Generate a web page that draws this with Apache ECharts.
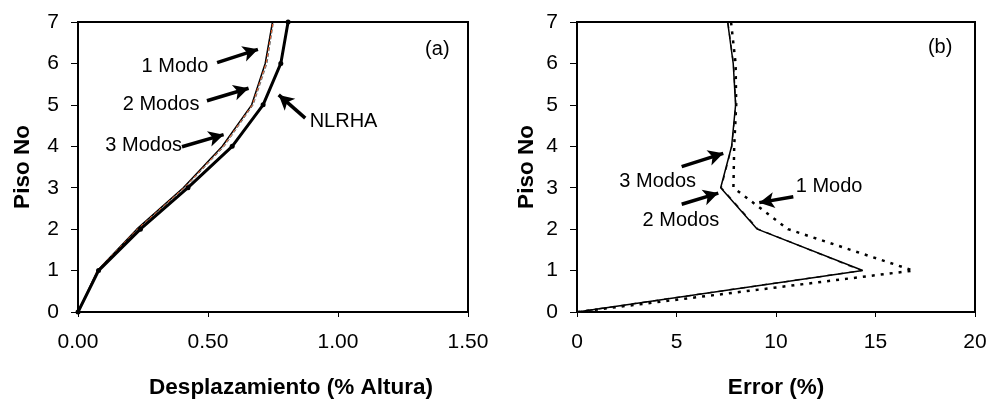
<!DOCTYPE html>
<html>
<head>
<meta charset="utf-8">
<script src="https://cdn.jsdelivr.net/npm/echarts@6/dist/echarts.min.js"></script>
<style>
  html, body { margin: 0; padding: 0; background: #fff; }
  #chart { width: 989px; height: 399px; }
</style>
</head>
<body>
<div id="chart"></div>
<script>
// Floors (storey numbers)
const floors = [0, 1, 2, 3, 4, 5, 6, 7];

// (a) Storey displacement (% of height)
const dispNLRHA = [0, 0.079, 0.240, 0.423, 0.593, 0.712, 0.780, 0.808];
const disp1Modo = [0, 0.075, 0.226, 0.405, 0.555, 0.668, 0.720, 0.748];
const disp2Modos = [0, 0.074, 0.228, 0.408, 0.558, 0.670, 0.723, 0.750];
const disp3Modos = [0, 0.076, 0.232, 0.412, 0.563, 0.674, 0.727, 0.752];

// (b) Error (%) relative to NLRHA
const err1Modo = [0, 16.9, 10.6, 7.86, 7.90, 8.00, 7.97, 7.74];
const err2Modos = [0, 14.30, 9.10, 7.25, 7.78, 7.98, 7.86, 7.58];
const err3Modos = [0, 14.36, 9.06, 7.22, 7.77, 7.97, 7.85, 7.57];

// Axis ticks
const dispTicks = [0, 0.5, 1.0, 1.5];
const errTicks = [0, 5, 10, 15, 20];
const floorTicks = [0, 1, 2, 3, 4, 5, 6, 7];

const pairs = (xs) => xs.map((v, i) => [v, floors[i]]);

const FONT = 'Liberation Sans, Arial, sans-serif';
const tickLabel = { color: '#000', fontSize: 21, fontFamily: FONT };
const nameStyle = { color: '#000', fontSize: 22.5, fontWeight: 'bold', fontFamily: FONT };
const axisLine = { show: true, lineStyle: { color: '#000', width: 2 } };

function arrow(from, to) {
  return [
    { coord: from, symbol: 'none' },
    { coord: to, symbol: 'arrow', symbolSize: [12, 15] }
  ];
}
function note(text, at, pos) {
  return {
    coord: at, symbol: 'circle', symbolSize: 0,
    label: { show: true, formatter: text, position: pos, distance: 0,
             color: '#000', fontSize: 20, fontFamily: FONT }
  };
}
const arrowLine = { color: '#000', width: 3.5, type: 'solid' };

const option = {
  animation: false,
  backgroundColor: '#fff',
  grid: [
    { left: 78, right: 521, top: 22, bottom: 87, show: true, containLabel: false,
      outerBoundsMode: 'none',
      borderColor: '#000', borderWidth: 2, backgroundColor: 'transparent' },
    { left: 577, right: 14, top: 22, bottom: 87, show: true, containLabel: false,
      outerBoundsMode: 'none',
      borderColor: '#000', borderWidth: 2, backgroundColor: 'transparent' }
  ],
  xAxis: [
    { gridIndex: 0, type: 'value', min: dispTicks[0], max: dispTicks[dispTicks.length - 1],
      interval: 0.5, splitLine: { show: false }, axisLine,
      axisTick: { show: true, length: 5, lineStyle: { color: '#000', width: 1 } },
      axisLabel: Object.assign({ margin: 20, formatter: v => v.toFixed(2) }, tickLabel),
      name: 'Desplazamiento (% Altura)', nameLocation: 'middle', nameGap: 64,
      nameTextStyle: Object.assign({ padding: [0, 0, 0, 36] }, nameStyle) },
    { gridIndex: 1, type: 'value', min: errTicks[0], max: errTicks[errTicks.length - 1],
      interval: 5, splitLine: { show: false }, axisLine,
      axisTick: { show: true, length: 5, lineStyle: { color: '#000', width: 1 } },
      axisLabel: Object.assign({ margin: 20 }, tickLabel),
      name: 'Error (%)', nameLocation: 'middle', nameGap: 64,
      nameTextStyle: nameStyle }
  ],
  yAxis: [0, 1].map(g => ({
    gridIndex: g, type: 'value', min: floorTicks[0], max: floorTicks[floorTicks.length - 1],
    interval: 1, splitLine: { show: false }, axisLine,
    axisTick: { show: true, length: 7, lineStyle: { color: '#000', width: 1 } },
    axisLabel: Object.assign({ margin: 19 }, tickLabel),
    name: 'Piso No', nameLocation: 'middle', nameGap: g === 0 ? 44 : 39, nameRotate: 90,
    nameTextStyle: nameStyle
  })),
  series: [
    // ---- (a) displacements ----
    { name: '1 Modo', type: 'line', xAxisIndex: 0, yAxisIndex: 0, data: pairs(disp1Modo),
      showSymbol: false, lineStyle: { color: '#000', width: 1.5 }, z: 3 },
    { name: '3 Modos', type: 'line', xAxisIndex: 0, yAxisIndex: 0, data: pairs(disp3Modos),
      showSymbol: false, lineStyle: { color: '#666', width: 1, type: 'dashed' }, z: 4 },
    { name: '2 Modos', type: 'line', xAxisIndex: 0, yAxisIndex: 0, data: pairs(disp2Modos),
      showSymbol: false, lineStyle: { color: '#e8541e', width: 1, type: [3, 3] }, z: 5 },
    { name: 'NLRHA', type: 'line', xAxisIndex: 0, yAxisIndex: 0, data: pairs(dispNLRHA),
      symbol: 'circle', symbolSize: 5, itemStyle: { color: '#000' },
      lineStyle: { color: '#000', width: 3 }, z: 6,
      markLine: {
        silent: true, animation: false, lineStyle: arrowLine, label: { show: false },
        data: [
          arrow([0.535, 6.02], [0.692, 6.34]),
          arrow([0.496, 5.10], [0.656, 5.40]),
          arrow([0.400, 3.99], [0.560, 4.28]),
          arrow([0.874, 4.68], [0.772, 5.24])
        ]
      },
      markPoint: {
        silent: true, animation: false,
        data: [
          note('1 Modo', [0.501, 5.93], 'left'),
          note('2 Modos', [0.467, 5.02], 'left'),
          note('3 Modos', [0.400, 4.02], 'left'),
          note('NLRHA', [0.891, 4.60], 'right'),
          note('(a)', [1.382, 6.33], 'inside')
        ]
      }
    },
    // ---- (b) errors ----
    { name: '1 Modo', type: 'line', xAxisIndex: 1, yAxisIndex: 1, data: pairs(err1Modo),
      showSymbol: false, lineStyle: { color: '#000', width: 2.5, type: [3, 6] }, z: 3 },
    { name: '2 Modos', type: 'line', xAxisIndex: 1, yAxisIndex: 1, data: pairs(err2Modos),
      showSymbol: false, lineStyle: { color: '#333', width: 1.5, type: [5, 6] }, z: 4 },
    { name: '3 Modos', type: 'line', xAxisIndex: 1, yAxisIndex: 1, data: pairs(err3Modos),
      showSymbol: false, lineStyle: { color: '#000', width: 1.5 }, z: 5,
      markLine: {
        silent: true, animation: false, lineStyle: arrowLine, label: { show: false },
        data: [
          arrow([5.26, 3.51], [7.35, 3.83]),
          arrow([5.26, 2.60], [7.10, 2.87]),
          arrow([10.87, 2.78], [9.16, 2.64])
        ]
      },
      markPoint: {
        silent: true, animation: false,
        data: [
          note('3 Modos', [5.98, 3.15], 'left'),
          note('2 Modos', [7.15, 2.21], 'left'),
          note('1 Modo', [10.99, 3.03], 'right'),
          note('(b)', [18.25, 6.38], 'inside')
        ]
      }
    }
  ]
};

const chart = echarts.init(document.getElementById('chart'), null, { renderer: 'canvas' });
chart.setOption(option);
</script>
</body>
</html>
